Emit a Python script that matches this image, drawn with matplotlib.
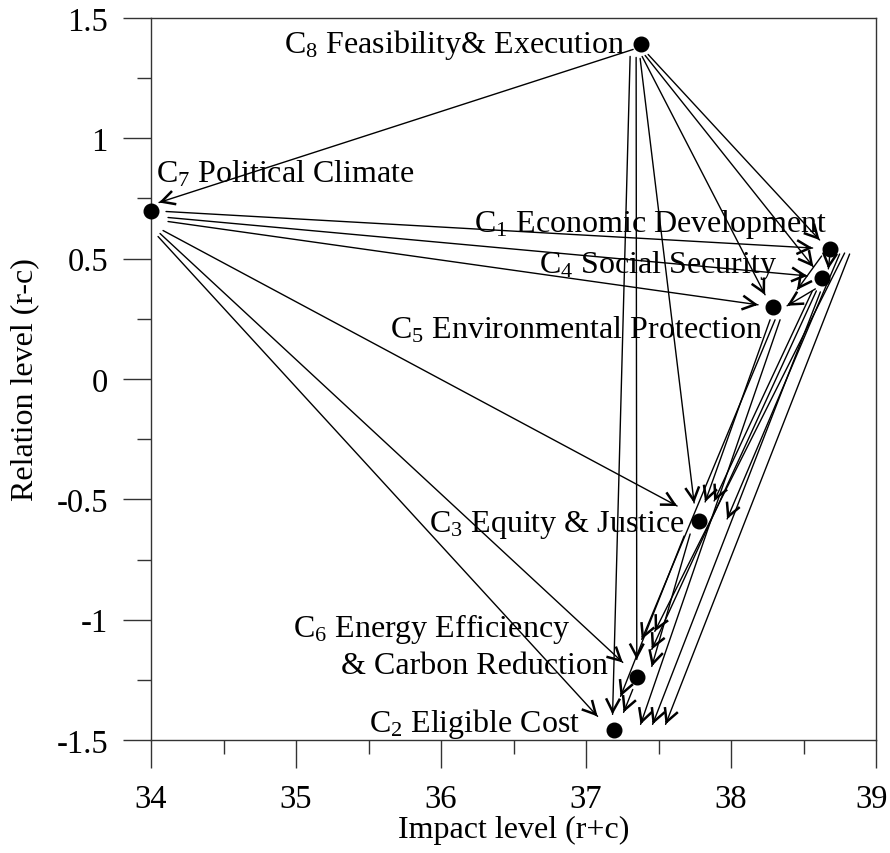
import numpy as np
import matplotlib
matplotlib.use("Agg")
import matplotlib.pyplot as plt
from matplotlib.transforms import ScaledTranslation
from matplotlib.ticker import MultipleLocator

plt.rcParams['font.family'] = ['Liberation Serif', 'DejaVu Serif']
plt.rcParams['mathtext.fontset'] = 'custom'
plt.rcParams['mathtext.rm'] = 'Liberation Serif'
plt.rcParams['mathtext.default'] = 'regular'
plt.rcParams['font.size'] = 23

# criteria: impact level (r+c) and relation level (r-c)
names = ["C1", "C2", "C3", "C4", "C5", "C6", "C7", "C8"]
impact = [38.68, 37.19, 37.78, 38.63, 38.29, 37.35, 34.00, 37.38]
relation = [0.54, -1.46, -0.59, 0.42, 0.30, -1.24, 0.70, 1.39]
labels = [r"C$_1$ Economic Development", r"C$_2$ Eligible Cost",
          r"C$_3$ Equity & Justice", r"C$_4$ Social Security",
          r"C$_5$ Environmental Protection", r"C$_6$ Energy Efficiency",
          r"C$_7$ Political Climate", r"C$_8$ Feasibility& Execution"]
extra_label = "& Carbon Reduction"  # second line of C6

x_ticks = [34, 35, 36, 37, 38, 39]
x_ticklabels = ["34", "35", "36", "37", "38", "39"]
y_ticks = [-1.5, -1, -0.5, 0, 0.5, 1, 1.5]
y_ticklabels = ["-1.5", "-1", "-0.5", "0", "0.5", "1", "1.5"]

# influence relations (source -> target)
edges = [("C8", "C7"), ("C8", "C1"), ("C8", "C4"), ("C8", "C5"), ("C8", "C3"),
         ("C8", "C6"), ("C8", "C2"),
         ("C7", "C1"), ("C7", "C4"), ("C7", "C5"), ("C7", "C3"), ("C7", "C6"),
         ("C7", "C2"),
         ("C1", "C4"), ("C1", "C5"), ("C1", "C3"), ("C1", "C6"), ("C1", "C2"),
         ("C4", "C5"), ("C4", "C3"), ("C4", "C6"), ("C4", "C2"),
         ("C5", "C3"), ("C5", "C6"), ("C5", "C2"),
         ("C3", "C6"), ("C3", "C2"),
         ("C6", "C2")]

# layout nudges in pixels (right, down) for arrow tails and heads
tail_px = [(-8, 5), (7, 10), (4, 11), (1, 12), (-1, 14), (-5, 13), (-11, 12),
           (15, 1), (17, 7), (17, 11), (12, 20), (9, 23), (7, 26),
           (0, 8), (-8, 7), (10, 5), (15, 4), (20, 5),
           (-7, 11), (-10, 13), (-6, 13), (-2, 14),
           (-3, 13), (2, 13), (7, 13),
           (-9, 13), (-15, 15),
           (-4, 12)]
head_px = [(8, -8), (-10, -9), (-9, -11), (-8, -12), (-5, -18), (0, -18), (-1, -16),
           (-17, -1), (-15, -2), (-15, -2), (-22, -15), (-14, -15), (-16, -14),
           (6, -9), (24, -17), (28, -2), (18, -46), (52, -6),
           (14, -1), (15, -20), (15, -28), (39, -6),
           (6, -19), (5, -38), (27, -6),
           (15, -11), (7, -34),
           (10, -18)]
# label offsets in pixels (right, down) and alignment
label_px = {"C1": (-2, -26, "right"), "C2": (-33, -7, "right"),
            "C3": (-14, 3, "right"), "C4": (-45, -13, "right"),
            "C5": (-10, 22, "right"), "C6": (-67, -49, "right"),
            "C7": (5, -37, "left"), "C8": (-16, 0, "right")}

fig = plt.figure(figsize=(8.9, 8.54), dpi=100)
ax = fig.add_axes([0.1697, 0.1323, 0.8146, 0.8455])
ax.set_xlim(34, 39)
ax.set_ylim(-1.5, 1.5)

pos = {n: (impact[i], relation[i]) for i, n in enumerate(names)}


def shift(px):
    return ax.transData + ScaledTranslation(px[0] / 100, -px[1] / 100, fig.dpi_scale_trans)


head_style = "->,head_length=0.95,head_width=0.5"
for (s, t), tp, hp in zip(edges, tail_px, head_px):
    tail = shift(tp).transform(pos[s])
    tip = shift(hp).transform(pos[t])
    u = (tip - tail) / np.hypot(*(tip - tail))
    # thin shaft
    ax.annotate("", xy=tip, xycoords="figure pixels", xytext=tail,
                textcoords="figure pixels",
                arrowprops=dict(arrowstyle="-", lw=1.0, color="black",
                                shrinkA=0, shrinkB=0),
                annotation_clip=False)
    # bolder head
    ax.annotate("", xy=tip, xycoords="figure pixels", xytext=tip - 3 * u,
                textcoords="figure pixels",
                arrowprops=dict(arrowstyle=head_style, lw=1.8, color="black",
                                shrinkA=0, shrinkB=0, mutation_scale=10,
                                joinstyle="miter", capstyle="butt"),
                annotation_clip=False)

ax.plot(impact, relation, "o", ms=10.5, color="black", zorder=5, clip_on=False)

for i, n in enumerate(names):
    dx, dy, ha = label_px[n]
    ax.annotate(labels[i], xy=pos[n], xytext=(dx * 0.72, -dy * 0.72),
                textcoords="offset points", ha=ha, va="center", fontsize=23)
ax.annotate(extra_label, xy=pos["C6"], xytext=(-29 * 0.72, 12 * 0.72),
            textcoords="offset points", ha="right", va="center", fontsize=23)

tick_len, tick_pad, tick_fs = 20, 11, 23.5
# last x tick label is drawn separately, nudged so it stays inside the canvas
ax.set_xticks(x_ticks, labels=x_ticklabels[:-1] + [""])
ax.annotate(x_ticklabels[-1], xy=(x_ticks[-1], 0), xycoords=("data", "axes fraction"),
            xytext=(-3.5, -(tick_len + tick_pad)), textcoords="offset points",
            ha="center", va="top", fontsize=tick_fs, annotation_clip=False)
ax.xaxis.set_minor_locator(MultipleLocator(0.5))
ax.set_yticks(y_ticks, labels=y_ticklabels)
ax.yaxis.set_minor_locator(MultipleLocator(0.25))
ax.tick_params(which="major", direction="out", length=tick_len, width=1, pad=tick_pad,
               labelsize=tick_fs, color="#333333")
ax.tick_params(which="minor", direction="out", length=10, width=1, color="#333333")
for sp in ax.spines.values():
    sp.set_linewidth(1)
    sp.set_color("#333333")

ax.set_xlabel("Impact level (r+c)", fontsize=23, labelpad=1)
ax.set_ylabel("Relation level (r-c)", fontsize=23, labelpad=12)

fig.savefig("out.png", dpi=100)
